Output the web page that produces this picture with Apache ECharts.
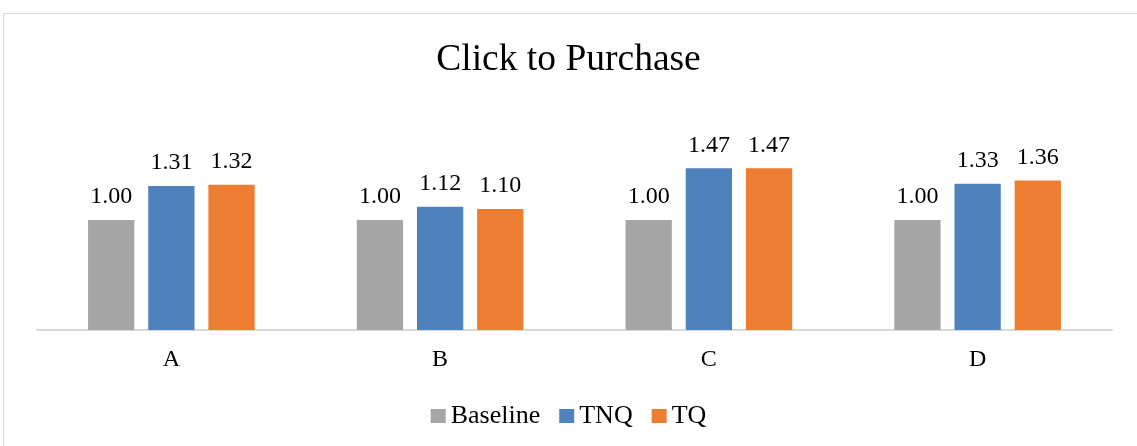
<!DOCTYPE html>
<html><head><meta charset="utf-8">
<script src="https://cdn.jsdelivr.net/npm/echarts@6/dist/echarts.min.js"></script>
<style>html,body{margin:0;padding:0;background:#fff}#c{width:1137px;height:446px}</style>
</head><body><div id="c"></div>
<script>
const categories = ['A', 'B', 'C', 'D'];
const baseline = [1.00, 1.00, 1.00, 1.00];
const tnq = [1.31, 1.12, 1.47, 1.33];
const tq = [1.32, 1.10, 1.47, 1.36];
const seriesNames = ['Baseline', 'TNQ', 'TQ'];
const colors = ['#A5A5A5', '#4F81BD', '#ED7D31'];
const font = '"Liberation Serif", "Times New Roman", serif';

const chart = echarts.init(document.getElementById('c'));
const mk = (name, data, color) => ({
  name, type: 'bar', data, barGap: '30%', barCategoryGap: '38%',
  itemStyle: { color },
  label: { show: true, position: 'top', distance: 11, formatter: p => p.value.toFixed(2),
    fontFamily: font, fontSize: 24, color: '#000' }
});
chart.setOption({
  animation: false,
  title: { text: 'Click to Purchase', left: 'center', top: 36,
    textStyle: { fontFamily: font, fontSize: 37.5, fontWeight: 'normal', color: '#000' } },
  graphic: [{ type: 'rect', shape: { x: 3.5, y: 13.5, width: 1150, height: 450 },
    style: { fill: 'none', stroke: '#d9d9d9', lineWidth: 1 }, silent: true }],
  legend: { bottom: 12, left: 'center', itemWidth: 15, itemHeight: 14, itemGap: 19,
    icon: 'rect', textStyle: { fontFamily: font, fontSize: 26, color: '#000' },
    data: seriesNames },
  grid: { left: 37, right: 25, top: 110, bottom: 116 },
  xAxis: { type: 'category', data: categories,
    axisLine: { lineStyle: { color: '#d9d9d9', width: 2 } }, axisTick: { show: false },
    axisLabel: { fontFamily: font, fontSize: 24, color: '#000', margin: 18 } },
  yAxis: { type: 'value', min: 0, max: 2, show: false, splitLine: { show: false } },
  series: [mk(seriesNames[0], baseline, colors[0]), mk(seriesNames[1], tnq, colors[1]), mk(seriesNames[2], tq, colors[2])]
});
</script></body></html>
